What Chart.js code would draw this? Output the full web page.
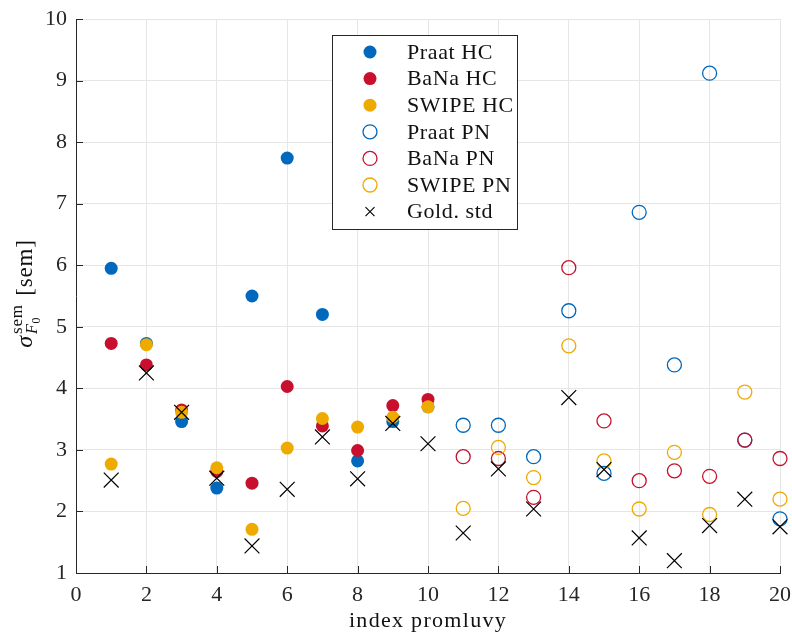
<!DOCTYPE html>
<html>
<head>
<meta charset="utf-8">
<script src="https://cdn.jsdelivr.net/npm/chart.js@4/dist/chart.umd.min.js"></script>
<style>
  html, body { margin: 0; padding: 0; background: #fff; }
  #wrap { width: 792px; height: 639px; }
</style>
</head>
<body>
<div id="wrap"><canvas id="chart" width="792" height="639"></canvas></div>
<script>
// utterance indices
const indexHC = [1, 2, 3, 4, 5, 6, 7, 8, 9, 10];
const indexPN = [11, 12, 13, 14, 15, 16, 17, 18, 19, 20];
const indexAll = indexHC.concat(indexPN);

// sigma_F0 per detector, healthy controls
const praatHC = [5.95, 4.73, 3.46, 2.38, 5.50, 7.74, 5.20, 2.82, 3.46, 3.70];
const banaHC  = [4.73, 4.38, 3.65, 2.65, 2.46, 4.03, 3.39, 2.99, 3.72, 3.82];
const swipeHC = [2.77, 4.71, 3.61, 2.71, 1.71, 3.03, 3.51, 3.37, 3.53, 3.70];

// sigma_F0 per detector, patients
const praatPN = [3.40, 3.40, 2.89, 5.26, 2.62, 6.86, 4.38, 9.12, 3.16, 1.88];
const banaPN  = [2.89, 2.86, 2.23, 5.96, 3.47, 2.50, 2.66, 2.57, 3.16, 2.86];
const swipePN = [2.05, 3.04, 2.55, 4.69, 2.82, 2.04, 2.96, 1.95, 3.94, 2.20];

// reference annotation
const goldStd = [2.51, 4.25, 3.61, 2.54, 1.44, 2.36, 3.21, 2.53, 3.43, 3.10,
                 1.65, 2.69, 2.04, 3.85, 2.68, 1.57, 1.20, 1.77, 2.20, 1.75];

const xTicks = [0, 2, 4, 6, 8, 10, 12, 14, 16, 18, 20];
const yTicks = [1, 2, 3, 4, 5, 6, 7, 8, 9, 10];

const BLUE = '#0068bd';
const RED = '#c8102e';
const YELLOW = '#efaa00';
const AXIS = '#262626';
const SERIF = '"Liberation Serif", "Times New Roman", serif';

function pts(xs, ys) {
  return xs.map((x, i) => ({ x: x, y: ys[i] }));
}

function filled(label, xs, ys, color, order) {
  return {
    label: label, data: pts(xs, ys), order: order, clip: false,
    pointStyle: 'circle', pointRadius: 6.5, pointHoverRadius: 6.5,
    backgroundColor: color, borderColor: color, borderWidth: 0
  };
}

function hollow(label, xs, ys, color, order) {
  return {
    label: label, data: pts(xs, ys), order: order, clip: false,
    pointStyle: 'circle', pointRadius: 7, pointHoverRadius: 7,
    backgroundColor: 'rgba(0,0,0,0)', borderColor: color, borderWidth: 1.3
  };
}

const datasets = [
  filled('Praat HC', indexHC, praatHC, BLUE, 7),
  filled('BaNa HC', indexHC, banaHC, RED, 6),
  filled('SWIPE HC', indexHC, swipeHC, YELLOW, 5),
  hollow('Praat PN', indexPN, praatPN, BLUE, 4),
  hollow('BaNa PN', indexPN, banaPN, RED, 3),
  hollow('SWIPE PN', indexPN, swipePN, YELLOW, 2),
  {
    label: 'Gold. std', data: pts(indexAll, goldStd), order: 1, clip: false,
    pointStyle: 'crossRot', pointRadius: 10.5, pointHoverRadius: 10.5,
    backgroundColor: '#000', borderColor: '#000', borderWidth: 1.2
  }
];

// inward ticks, the in-plot legend and the axis titles
const decorations = {
  id: 'decorations',
  afterDatasetsDraw(chart) {
    const ctx = chart.ctx;
    const area = chart.chartArea;
    const xs = chart.scales.x, ys = chart.scales.y;

    ctx.save();
    ctx.strokeStyle = AXIS;
    ctx.lineWidth = 1;
    ctx.beginPath();
    xTicks.forEach(v => {
      const px = Math.round(xs.getPixelForValue(v)) + 0.5;
      ctx.moveTo(px, area.bottom);
      ctx.lineTo(px, area.bottom - 7);
    });
    yTicks.forEach(v => {
      const py = Math.round(ys.getPixelForValue(v)) + 0.5;
      ctx.moveTo(area.left, py);
      ctx.lineTo(area.left + 7, py);
    });
    ctx.stroke();
    ctx.restore();

    // legend box
    const box = { left: 332.5, top: 35.5, width: 185, height: 194 };
    ctx.save();
    ctx.fillStyle = '#fff';
    ctx.fillRect(box.left, box.top, box.width, box.height);
    ctx.strokeStyle = AXIS;
    ctx.lineWidth = 1;
    ctx.strokeRect(box.left, box.top, box.width, box.height);
    ctx.font = '22px ' + SERIF;
    ctx.letterSpacing = '0.6px';
    ctx.textBaseline = 'middle';
    ctx.textAlign = 'left';
    chart.data.datasets.forEach((ds, i) => {
      const cy = 52 + i * 26.6;
      const cx = 370;
      if (ds.pointStyle === 'crossRot') {
        ctx.strokeStyle = ds.borderColor;
        ctx.lineWidth = 1.1;
        ctx.beginPath();
        ctx.moveTo(cx - 4.5, cy - 4.5); ctx.lineTo(cx + 4.5, cy + 4.5);
        ctx.moveTo(cx - 4.5, cy + 4.5); ctx.lineTo(cx + 4.5, cy - 4.5);
        ctx.stroke();
      } else {
        ctx.beginPath();
        ctx.arc(cx, cy, ds.pointRadius, 0, Math.PI * 2);
        if (ds.borderWidth > 0) {
          ctx.strokeStyle = ds.borderColor;
          ctx.lineWidth = ds.borderWidth;
          ctx.stroke();
        } else {
          ctx.fillStyle = ds.backgroundColor;
          ctx.fill();
        }
      }
      ctx.fillStyle = '#111';
      ctx.fillText(ds.label, 407, cy + 1);
    });
    ctx.restore();

    // x axis title
    ctx.save();
    ctx.font = '22px ' + SERIF;
    ctx.letterSpacing = '1.3px';
    ctx.fillStyle = '#111';
    ctx.textAlign = 'center';
    ctx.textBaseline = 'alphabetic';
    ctx.fillText('index promluvy', (area.left + area.right) / 2, 627);
    ctx.restore();

    // y axis title: sigma^{sem}_{F_0} [sem]
    ctx.save();
    ctx.translate(32, 294);
    ctx.rotate(-Math.PI / 2);
    ctx.fillStyle = '#111';
    ctx.textBaseline = 'alphabetic';
    ctx.letterSpacing = '0.8px';
    const big = '23px ' + SERIF, small = '17px ' + SERIF, tiny = '12px ' + SERIF;
    const bigIt = 'italic 24px ' + SERIF, smallIt = 'italic 16px ' + SERIF;
    ctx.font = bigIt; const wSig = ctx.measureText('σ').width;
    ctx.font = small; const wSup = ctx.measureText('sem').width;
    ctx.font = smallIt; const wF = ctx.measureText('F').width;
    ctx.font = tiny; const w0 = ctx.measureText('0').width;
    ctx.font = big; const wRest = ctx.measureText(' [sem]').width;
    const wScript = Math.max(wSup, wF + w0) + 2;
    let x = -(wSig + wScript + wRest) / 2;
    ctx.font = bigIt; ctx.fillText('σ', x, 0); x += wSig + 1;
    ctx.font = small; ctx.fillText('sem', x, -10);
    ctx.font = smallIt; ctx.fillText('F', x, 5);
    ctx.font = tiny; ctx.fillText('0', x + wF, 8);
    x += wScript;
    ctx.font = big; ctx.fillText(' [sem]', x, 0);
    ctx.restore();
  }
};

new Chart(document.getElementById('chart'), {
  type: 'scatter',
  data: { datasets: datasets },
  options: {
    responsive: false,
    devicePixelRatio: 1,
    animation: false,
    layout: { padding: { left: 0, right: 12, top: 19, bottom: 0 } },
    plugins: { legend: { display: false }, tooltip: { enabled: false } },
    scales: {
      x: {
        type: 'linear', min: 0, max: 20,
        afterBuildTicks: s => { s.ticks = xTicks.map(v => ({ value: v })); },
        afterFit: s => { s.height = 66; s.paddingLeft = 0; s.paddingRight = 0; },
        ticks: { color: AXIS, font: { family: SERIF, size: 22 }, padding: 9, maxRotation: 0 },
        grid: { color: '#e6e6e6', drawTicks: false },
        border: { color: AXIS, width: 1 }
      },
      y: {
        type: 'linear', min: 1, max: 10,
        afterBuildTicks: s => { s.ticks = yTicks.map(v => ({ value: v })); },
        afterFit: s => { s.width = 76; s.paddingTop = 0; s.paddingBottom = 0; },
        ticks: { color: AXIS, font: { family: SERIF, size: 22 }, padding: 9 },
        grid: { color: '#e6e6e6', drawTicks: false },
        border: { color: AXIS, width: 1 }
      }
    }
  },
  plugins: [decorations]
});
</script>
</body>
</html>
